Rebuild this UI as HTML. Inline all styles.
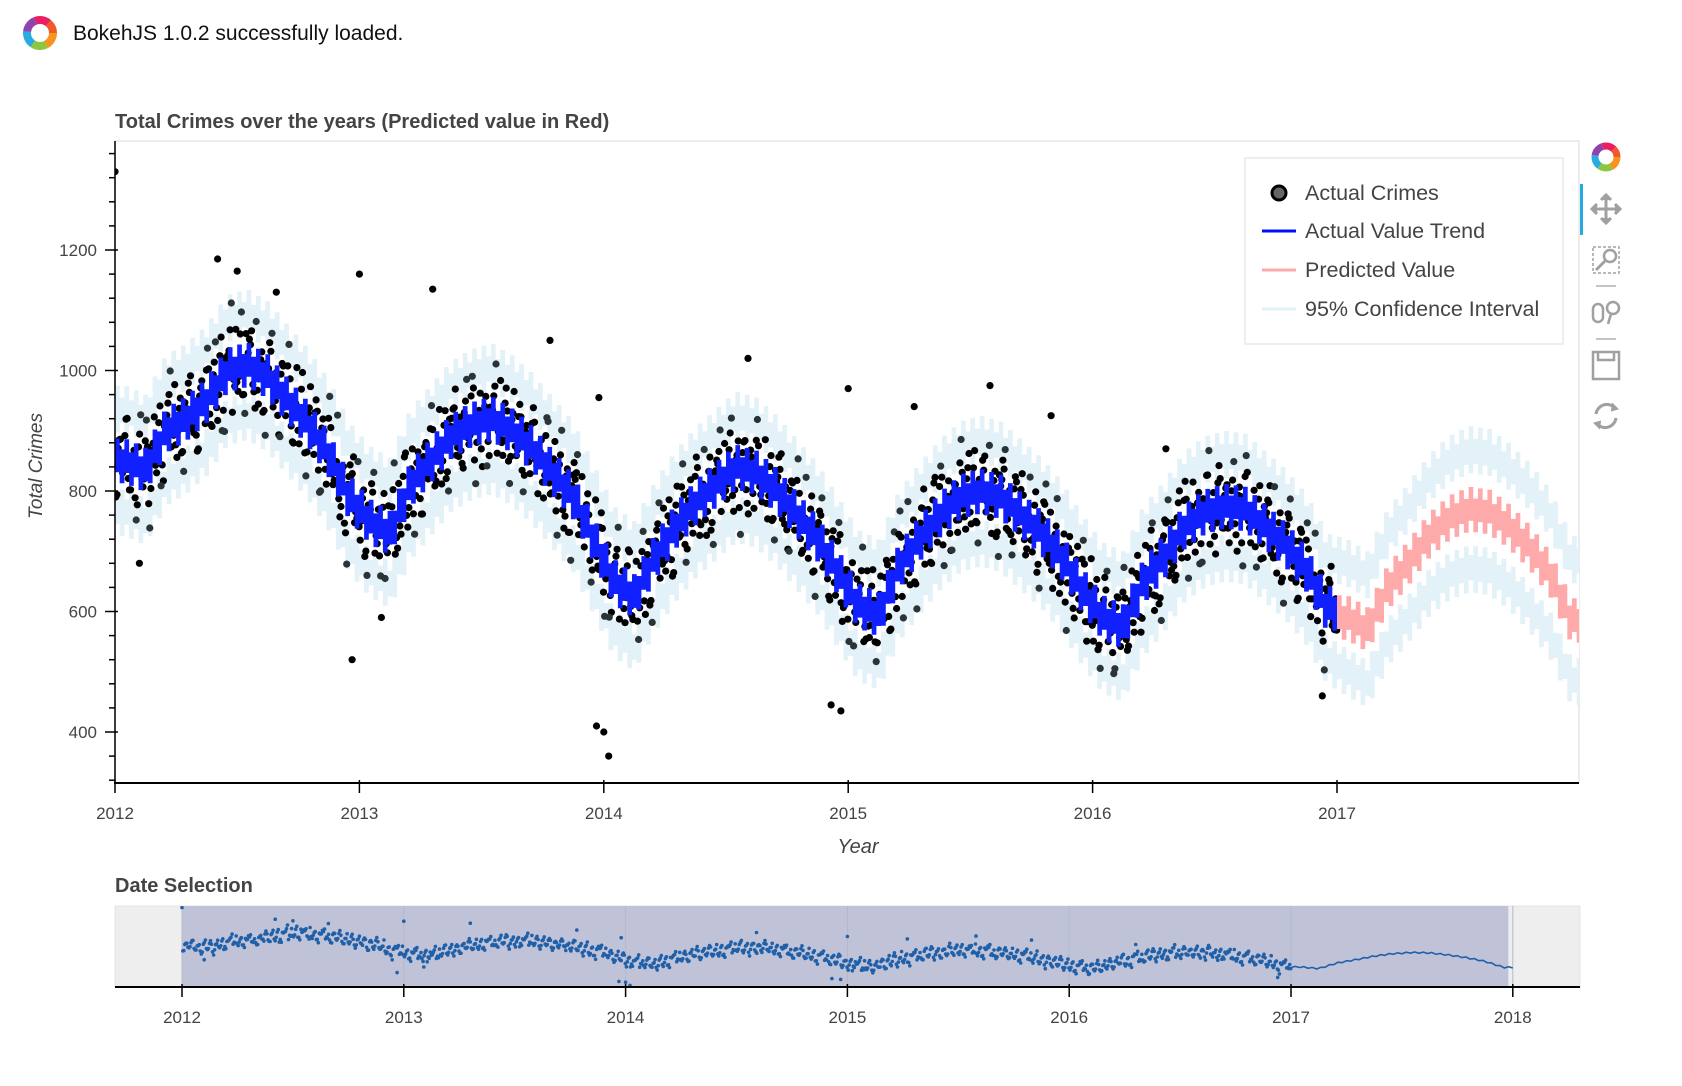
<!DOCTYPE html>
<html><head><meta charset="utf-8">
<style>
html,body{margin:0;padding:0;background:#fff;width:1682px;height:1086px;overflow:hidden}
svg{display:block}
text{font-family:"Liberation Sans",Arial,sans-serif}
</style></head>
<body>
<svg id="chart" width="1682" height="1086" viewBox="0 0 1682 1086" xmlns="http://www.w3.org/2000/svg">
  <defs>
    <clipPath id="plotClip"><rect x="115" y="141" width="1464" height="642"/></clipPath>
    <clipPath id="miniClip"><rect x="115" y="906" width="1465" height="81"/></clipPath>
  </defs>
  <g>
    <g transform="translate(40,33)">
      <circle r="13" fill="none" stroke="#f7931e" stroke-width="8" stroke-dasharray="14 68"/>
      <circle r="13" fill="none" stroke="#8dc63f" stroke-width="8" stroke-dasharray="0 14 14 54" />
      <circle r="13" fill="none" stroke="#29abe2" stroke-width="8" stroke-dasharray="0 28 14 40" />
      <circle r="13" fill="none" stroke="#8e44ad" stroke-width="8" stroke-dasharray="0 42 14 26" />
      <circle r="13" fill="none" stroke="#e91e63" stroke-width="8" stroke-dasharray="0 56 14 12" />
      <circle r="13" fill="none" stroke="#f05a28" stroke-width="8" stroke-dasharray="0 70 12 0" />
    </g>
    <text x="73" y="40" font-size="21" fill="#111">BokehJS 1.0.2 successfully loaded.</text>
  </g>

  <text x="115" y="128" font-size="20" font-weight="bold" fill="#444">Total Crimes over the years (Predicted value in Red)</text>

  <rect x="115" y="141" width="1464" height="642" fill="#fff" stroke="#e6e6e6" stroke-width="1.5"/>

  <g id="plotLayer" clip-path="url(#plotClip)"></g>
  <g id="axes"></g>

  <text transform="translate(42,466) rotate(-90)" text-anchor="middle" font-size="19" font-style="italic" fill="#444">Total Crimes</text>
  <text x="858" y="853" text-anchor="middle" font-size="20" font-style="italic" fill="#444">Year</text>

  <g>
    <rect x="1245" y="158" width="318" height="186" fill="#fff" stroke="#e8e8e8" stroke-width="1.5"/>
    <g>
      <circle cx="1279" cy="193" r="7" fill="#666" stroke="#000" stroke-width="3"/>
      <text x="1305" y="200" font-size="21.5" fill="#444">Actual Crimes</text>
    </g>
    <g>
      <line x1="1262" y1="231" x2="1296" y2="231" stroke="#0010ff" stroke-width="3"/>
      <text x="1305" y="238" font-size="21.5" fill="#444">Actual Value Trend</text>
    </g>
    <g>
      <line x1="1262" y1="270" x2="1296" y2="270" stroke="#ffaaaa" stroke-width="3"/>
      <text x="1305" y="277" font-size="21.5" fill="#444">Predicted Value</text>
    </g>
    <g>
      <line x1="1262" y1="309" x2="1296" y2="309" stroke="#e3f1f8" stroke-width="3"/>
      <text x="1305" y="316" font-size="21.5" fill="#444">95% Confidence Interval</text>
    </g>
  </g>

  <g stroke="#a0a0a0" fill="none">
    <g transform="translate(1606,157)">
      <circle r="11" fill="none" stroke="#f7931e" stroke-width="7" stroke-dasharray="12 58"/>
      <circle r="11" fill="none" stroke="#8dc63f" stroke-width="7" stroke-dasharray="0 12 12 46"/>
      <circle r="11" fill="none" stroke="#29abe2" stroke-width="7" stroke-dasharray="0 24 12 34"/>
      <circle r="11" fill="none" stroke="#8e44ad" stroke-width="7" stroke-dasharray="0 36 12 22"/>
      <circle r="11" fill="none" stroke="#e91e63" stroke-width="7" stroke-dasharray="0 48 12 10"/>
      <circle r="11" fill="none" stroke="#f05a28" stroke-width="7" stroke-dasharray="0 60 10 0"/>
    </g>
    <rect x="1580" y="184" width="3" height="51" fill="#26aae1" stroke="none"/>
    <g stroke-width="3" stroke="#a0a0a0">
      <line x1="1593" y1="209" x2="1619" y2="209"/><line x1="1606" y1="196" x2="1606" y2="222"/>
      <path d="M1601 200 L1606 195 L1611 200 M1601 218 L1606 223 L1611 218 M1597 204 L1592 209 L1597 214 M1615 204 L1620 209 L1615 214" fill="#a0a0a0"/>
    </g>
    <g stroke-width="1.5">
      <rect x="1593" y="247" width="26" height="26" stroke-dasharray="3 2"/>
      <circle cx="1610" cy="256" r="6" stroke-width="2.5"/>
      <line x1="1605" y1="261" x2="1596" y2="270" stroke-width="3"/>
    </g>
    <line x1="1596" y1="286" x2="1616" y2="286" stroke-width="1.2"/>
    <g stroke-width="2.5">
      <rect x="1593" y="304" width="10" height="18" rx="5"/>
      <circle cx="1613" cy="308" r="6"/>
      <line x1="1611" y1="314" x2="1608" y2="324"/>
    </g>
    <line x1="1596" y1="339" x2="1616" y2="339" stroke-width="1.2"/>
    <g stroke-width="2.5">
      <rect x="1593" y="352" width="26" height="27"/>
      <path d="M1598 352 V360 H1614 V352"/>
    </g>
    <g stroke-width="3">
      <path d="M1596 414 A11 11 0 0 1 1615 408"/>
      <path d="M1616 418 A11 11 0 0 1 1597 424"/>
      <path d="M1612 403 L1618 409 L1611 411" fill="#a0a0a0" stroke-width="1"/>
      <path d="M1600 429 L1594 423 L1601 421" fill="#a0a0a0" stroke-width="1"/>
    </g>
  </g>

  <text x="115" y="892" font-size="20" font-weight="bold" fill="#444">Date Selection</text>
  <rect x="115" y="906" width="1465" height="81" fill="#eeeeee" stroke="#e4e4e4"/>
  <g id="miniLayer" clip-path="url(#miniClip)"></g>
  <g id="miniAxes"></g>
</svg>

<script>
// ---------------- DATA ----------------
const yearTicks = [2012, 2013, 2014, 2015, 2016, 2017];
const miniYearTicks = [2012, 2013, 2014, 2015, 2016, 2017, 2018];
const yTickValues = [400, 600, 800, 1000, 1200];
const startYear = 2012;
// Monthly trend (blue), Jan 2012 .. Dec 2016
const actualTrend = [
  850, 835, 900, 920, 950, 1000, 1010, 990, 950, 910, 860, 790,
  750, 730, 810, 850, 890, 910, 920, 900, 870, 830, 790, 720,
  650, 625, 690, 740, 780, 810, 840, 830, 800, 760, 720, 665,
  610, 595, 675, 720, 760, 790, 800, 790, 760, 730, 690, 635,
  590, 575, 650, 690, 740, 765, 775, 770, 740, 710, 670, 605
];
// Monthly predicted (pink), Jan .. Dec 2017
const predicted = [590, 570, 640, 680, 725, 755, 770, 765, 740, 705, 660, 585];
// Half-width of 95% confidence interval per month (2012..2017)
const ciHalf = [
  115,115,115,115,115,115,115,115,115,115,115,115,
  115,115,115,115,115,115,115,115,115,115,115,115,
  115,115,115,115,115,115,115,115,115,115,115,115,
  115,115,115,115,115,115,115,115,115,115,115,115,
  115,115,115,115,115,115,115,115,115,115,115,115,
  120,120,120,122,124,126,128,128,128,130,130,130
];
const bandHalf = 28;
// Residuals of actual crimes around the trend: 6 samples per month
const crimeResiduals = [
 -60,35,-20,70,-45,10,  -90,55,-30,80,-110,20,  -40,60,-75,25,95,-15,  -55,40,-85,15,65,-35,
 -70,30,-10,85,-50,45,  -60,70,-95,25,110,-30,  -40,90,-80,20,60,-65,  -55,35,-100,15,80,-25,
 -75,50,-30,95,-60,10,  -50,75,-90,30,-20,60,  -85,45,-55,100,-35,15,  -65,30,-120,55,75,-20,
 -50,40,-95,20,85,-30,  -80,60,-35,10,100,-55,  -45,70,-60,25,-90,40,  -70,35,-25,90,-50,15,
 -60,55,-85,30,75,-40,  -55,45,-30,80,-100,20,  -75,40,-60,15,95,-25,  -50,65,-90,30,-35,55,
 -85,30,-45,70,-20,10,  -60,80,-40,25,-95,45,  -70,35,-110,60,85,-20,  -45,55,-80,20,-30,70,
 -90,40,-60,30,95,-15,  -55,70,-35,15,-85,50,  -65,45,-100,25,80,-30,  -50,60,-75,35,-25,90,
 -80,30,-45,75,-60,20,  -70,55,-95,40,85,-25,  -40,65,-70,20,-110,45,  -55,35,-60,90,-30,15,
 -60,50,-85,25,70,-40,  -75,45,-30,95,-55,10,  -50,60,-100,30,80,-20,  -65,40,-45,85,-70,25,
 -85,55,-35,20,100,-50,  -45,70,-80,30,-25,60,  -70,35,-60,90,-95,15,  -55,45,-110,25,75,-30,
 -60,65,-40,80,-90,20,  -75,30,-55,95,-35,45,  -50,70,-85,15,60,-25,  -65,40,-100,30,85,-45,
 -80,55,-30,70,-60,10,  -45,60,-95,25,90,-35,  -70,40,-65,20,-110,55,  -55,35,-40,85,-75,25,
 -60,50,-90,30,80,-20,  -85,45,-35,95,-55,15,  -50,65,-75,20,-30,70,  -70,30,-100,60,85,-40,
 -65,55,-45,75,-90,25,  -55,40,-80,15,100,-30,  -75,70,-35,30,-60,45,  -45,35,-95,90,-25,10,
 -80,60,-55,25,75,-40,  -60,45,-100,35,85,-20,  -70,55,-30,80,-65,15,  -50,40,-110,25,70,-35
];
const outlierYears = [2012.0, 2012.42, 2012.5, 2012.66, 2012.97, 2013.0, 2013.09, 2013.3, 2013.78, 2013.98, 2013.97, 2014.02, 2014.0, 2014.59, 2014.93, 2015.0, 2014.97, 2015.58, 2015.83, 2016.94, 2016.3, 2015.27, 2012.1];
const outlierValues = [1330, 1185, 1165, 1130, 520, 1160, 590, 1135, 1050, 955, 410, 360, 400, 1020, 445, 970, 435, 975, 925, 460, 870, 940, 680];

// ---------------- SCALES ----------------
const X0 = 115, PX_PER_YEAR = 244.4;
const x = t => X0 + (t - startYear) * PX_PER_YEAR;
const y = v => 250 + (1200 - v) * 0.6025;
const MX0 = 182, MPX_PER_YEAR = 221.8;
const mx = t => MX0 + (t - startYear) * MPX_PER_YEAR;
const my = v => 906 + (1350 - v) / 1010 * 81;

const NS = "http://www.w3.org/2000/svg";
function mk(tag, attrs, parent) {
  const el = document.createElementNS(NS, tag);
  for (const k in attrs) el.setAttribute(k, attrs[k]);
  parent.appendChild(el);
  return el;
}
const plot = document.getElementById('plotLayer');
const axes = document.getElementById('axes');
const mini = document.getElementById('miniLayer');
const miniAxes = document.getElementById('miniAxes');

const allTrend = actualTrend.concat(predicted);
function interp(arr, t, offset) {
  const f = (t - startYear) * 12 - 0.5 - offset;
  let i = Math.floor(f);
  if (i < 0) return arr[0];
  if (i >= arr.length - 1) return arr[arr.length - 1];
  const r = f - i;
  return arr[i] * (1 - r) + arr[i + 1] * r;
}
function bandPath(getCenter, getHalf, t0, t1, wig) {
  const top = [], bot = [];
  let k = 0;
  const step = 1 / 52;
  for (let t = t0; t < t1 - 1e-9; t += step, k++) {
    const tm = Math.min(t + step, t1);
    const c = getCenter(t + step / 2), h = getHalf(t + step / 2);
    const w = (k % 2 === 0) ? wig : -wig;
    top.push([x(t), y(c + h + w)], [x(tm), y(c + h + w)]);
    bot.push([x(t), y(c - h + w)], [x(tm), y(c - h + w)]);
  }
  let d = 'M' + top.map(p => p[0].toFixed(1) + ' ' + p[1].toFixed(1)).join(' L');
  d += ' L' + bot.reverse().map(p => p[0].toFixed(1) + ' ' + p[1].toFixed(1)).join(' L') + ' Z';
  return d;
}
const ci = mk('path', {d: bandPath(t => interp(allTrend, t, 0), t => interp(ciHalf, t, 0), 2012.0, 2018.0, 10), fill: '#e3f1f8'}, plot);


const gap = mk('path', {d: bandPath(t => interp(allTrend, t, 0), t => interp(ciHalf, t, 0) - 60, 2012.0, 2018.0, -8), fill: '#ffffff'}, plot);



const passes = [[0, 1, 0], [1 / 18, -0.8, 3], [2 / 18, 0.6, 1]];
passes.forEach(p => {
  for (let m = 0; m < actualTrend.length; m++) {
    for (let j = 0; j < 6; j++) {
      const t = startYear + (m + (j + 0.25) / 6 + p[0]) / 12;
      if (t > 2017) continue;
      const r = crimeResiduals[(m * 6 + j + p[2]) % crimeResiduals.length] * p[1];
      const v = interp(actualTrend, t, 0) + r;
      const c = mk('circle', {cx: x(t).toFixed(1), cy: y(v).toFixed(1), r: 3.6, fill: (Math.abs(r) > 75 ? '#2a3436' : '#000')}, plot);
      
      
    }
  }
});
for (let i = 0; i < outlierYears.length; i++) {
  const c = mk('circle', {cx: x(outlierYears[i]).toFixed(1), cy: y(outlierValues[i]).toFixed(1), r: 3.6, fill: '#000'}, plot);
  
  
}
const blue = mk('path', {d: bandPath(t => interp(actualTrend, t, 0), () => bandHalf, 2012.0, 2017.0, 9), fill: '#1020ff'}, plot);


const pink = mk('path', {d: bandPath(t => interp(predicted, t, 60), () => bandHalf, 2017.0, 2018.0, 9), fill: '#ffaaaa'}, plot);



const yAxisLine = mk('line', {x1: 115, y1: 141, x2: 115, y2: 784, stroke: '#000', 'stroke-width': 1.5}, axes);


const xAxisLine = mk('line', {x1: 114, y1: 783, x2: 1579, y2: 783, stroke: '#000', 'stroke-width': 2}, axes);


for (let v = 320; v <= 1360; v += 40) {
  const major = yTickValues.indexOf(v) >= 0;
  mk('line', {x1: major ? 105 : 109, y1: y(v), x2: major ? 118 : 115, y2: y(v), stroke: '#000', 'stroke-width': 1.5}, axes);
}
yTickValues.forEach(v => {
  const tl = mk('text', {x: 97, y: y(v) + 6, 'text-anchor': 'end', 'font-size': 17, fill: '#444'}, axes);
  tl.textContent = v;
  
  
});
yearTicks.forEach(t => {
  mk('line', {x1: x(t), y1: 780, x2: x(t), y2: 793, stroke: '#000', 'stroke-width': 1.5}, axes);
  const tl = mk('text', {x: x(t), y: 819, 'text-anchor': 'middle', 'font-size': 17, fill: '#444'}, axes);
  tl.textContent = t;
  
  
});

const sel = mk('rect', {x: mx(2012), y: 906, width: mx(2017.98) - mx(2012), height: 81, fill: '#c0c3d8'}, mini);


miniYearTicks.forEach(t => mk('line', {x1: mx(t), y1: 906, x2: mx(t), y2: 987, stroke: '#b5b8cc', 'stroke-width': 1}, mini));
passes.forEach(p => {
  for (let m = 0; m < actualTrend.length; m++) {
    for (let j = 0; j < 6; j++) {
      const t = startYear + (m + (j + 0.25) / 6 + p[0]) / 12;
      if (t > 2017) continue;
      const v = interp(actualTrend, t, 0) + crimeResiduals[(m * 6 + j + p[2]) % crimeResiduals.length] * p[1];
      const c = mk('circle', {cx: mx(t).toFixed(1), cy: my(v).toFixed(1), r: 1.8, fill: '#2060a8'}, mini);
      
      
    }
  }
});
for (let i = 0; i < outlierYears.length; i++) {
  const c = mk('circle', {cx: mx(outlierYears[i]).toFixed(1), cy: my(outlierValues[i]).toFixed(1), r: 1.8, fill: '#2060a8'}, mini);
  
  
}
let pd = '';
for (let k = 0; k <= 52; k++) {
  const t = 2017 + k / 52;
  const v = interp(predicted, t, 60) + (k % 2 ? 8 : -8);
  pd += (k ? ' L' : 'M') + mx(t).toFixed(1) + ' ' + my(v).toFixed(1);
}
const pl = mk('path', {d: pd, fill: 'none', stroke: '#2060a8', 'stroke-width': 1.6}, mini);



const mAxis = mk('line', {x1: 115, y1: 987, x2: 1580, y2: 987, stroke: '#000', 'stroke-width': 2}, miniAxes);


miniYearTicks.forEach(t => {
  mk('line', {x1: mx(t), y1: 984, x2: mx(t), y2: 997, stroke: '#000', 'stroke-width': 1.5}, miniAxes);
  const tl = mk('text', {x: mx(t), y: 1023, 'text-anchor': 'middle', 'font-size': 17, fill: '#444'}, miniAxes);
  tl.textContent = t;
  
  
});
</script>
</body></html>
